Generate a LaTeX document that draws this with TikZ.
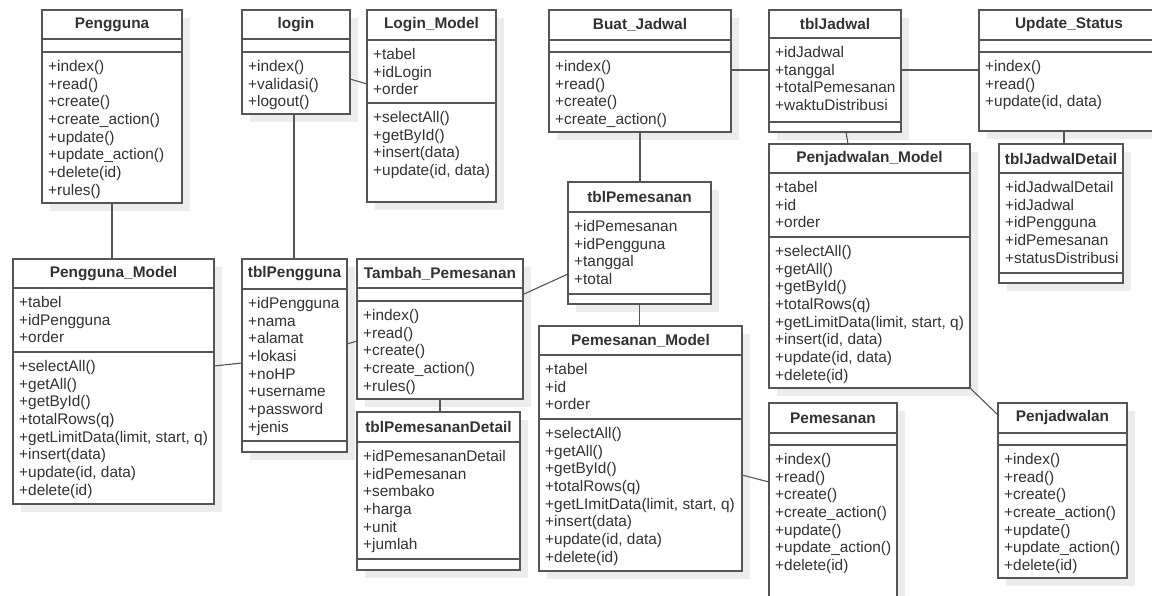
\documentclass[tikz,border=0pt]{standalone}
\usepackage{fontspec}
\setmainfont{Liberation Sans}
\usetikzlibrary{positioning,backgrounds}
\definecolor{linegray}{RGB}{85,85,85}
\definecolor{textgray}{RGB}{50,50,50}
\definecolor{shadowgray}{RGB}{236,236,236}
\tikzstyle{clsname} = [rectangle, draw=linegray, fill=white, line width=1.1pt, outer sep=0pt, inner sep=0pt, text=textgray, font=\fontsize{15.4}{17.7}\selectfont\bfseries, anchor=north west]
\tikzstyle{compart} = [rectangle, draw=linegray, fill=white, line width=1.1pt, outer sep=0pt, inner sep=0pt]
\tikzstyle{items} = [anchor=north west, align=left, inner xsep=6pt, inner ysep=8pt, text=textgray, font=\fontsize{15.4}{17.7}\selectfont]
\tikzstyle{line} = [draw=linegray, line width=1.1pt]

\begin{document}
\begin{tikzpicture}[x=1pt, y=-1pt]
	\useasboundingbox (0,0) rectangle (1152,595);

	% controllers and models, top row
	\node [clsname, minimum width=140, minimum height=29] (pengguna) at (42,10) {Pengguna};
	\node [compart, minimum width=140, minimum height=13, below=0pt of pengguna] (pengguna-a) {};
	\node [compart, minimum width=140, minimum height=151, below=0pt of pengguna-a] (pengguna-m) {};
	\node [items] (pengguna-mt) at (pengguna-m.north west) {+index()\\+read()\\+create()\\+create\_action()\\+update()\\+update\_action()\\+delete(id)\\+rules()};

	\node [clsname, minimum width=108, minimum height=29] (login) at (242,10) {login};
	\node [compart, minimum width=108, minimum height=13, below=0pt of login] (login-a) {};
	\node [compart, minimum width=108, minimum height=62, below=0pt of login-a] (login-m) {};
	\node [items] (login-mt) at (login-m.north west) {+index()\\+validasi()\\+logout()};

	\node [clsname, minimum width=129, minimum height=30] (loginmodel) at (367,10) {Login\_Model};
	\node [compart, minimum width=129, minimum height=63, below=0pt of loginmodel] (loginmodel-a) {};
	\node [compart, minimum width=129, minimum height=99, below=0pt of loginmodel-a] (loginmodel-m) {};
	\node [items] (loginmodel-at) at (loginmodel-a.north west) {+tabel\\+idLogin\\+order};
	\node [items] (loginmodel-mt) at (loginmodel-m.north west) {+selectAll()\\+getById()\\+insert(data)\\+update(id, data)};

	\node [clsname, minimum width=182, minimum height=30] (buatjadwal) at (549,10) {Buat\_Jadwal};
	\node [compart, minimum width=182, minimum height=12, below=0pt of buatjadwal] (buatjadwal-a) {};
	\node [compart, minimum width=182, minimum height=80, below=0pt of buatjadwal-a] (buatjadwal-m) {};
	\node [items] (buatjadwal-mt) at (buatjadwal-m.north west) {+index()\\+read()\\+create()\\+create\_action()};

	\node [clsname, minimum width=132, minimum height=28] (tbljadwal) at (769,10) {tblJadwal};
	\node [compart, minimum width=132, minimum height=84, below=0pt of tbljadwal] (tbljadwal-a) {};
	\node [compart, minimum width=132, minimum height=10, below=0pt of tbljadwal-a] (tbljadwal-m) {};
	\node [items] (tbljadwal-at) at (tbljadwal-a.north west) {+idJadwal\\+tanggal\\+totalPemesanan\\+waktuDistribusi};

	\node [clsname, minimum width=180, minimum height=30] (updatestatus) at (979,10) {Update\_Status};
	\node [compart, minimum width=180, minimum height=12, below=0pt of updatestatus] (updatestatus-a) {};
	\node [compart, minimum width=180, minimum height=79, below=0pt of updatestatus-a] (updatestatus-m) {};
	\node [items] (updatestatus-mt) at (updatestatus-m.north west) {+index()\\+read()\\+update(id, data)};

	% second row
	\node [clsname, minimum width=124, minimum height=29] (tbljadwaldetail) at (999,144) {tblJadwalDetail};
	\node [compart, minimum width=124, minimum height=100, below=0pt of tbljadwaldetail] (tbljadwaldetail-a) {};
	\node [compart, minimum width=124, minimum height=10, below=0pt of tbljadwaldetail-a] (tbljadwaldetail-m) {};
	\node [items] (tbljadwaldetail-at) at (tbljadwaldetail-a.north west) {+idJadwalDetail\\+idJadwal\\+idPengguna\\+idPemesanan\\+statusDistribusi};

	\node [clsname, minimum width=201, minimum height=29] (penjadwalanmodel) at (769,144) {Penjadwalan\_Model};
	\node [compart, minimum width=201, minimum height=64, below=0pt of penjadwalanmodel] (penjadwalanmodel-a) {};
	\node [compart, minimum width=201, minimum height=151, below=0pt of penjadwalanmodel-a] (penjadwalanmodel-m) {};
	\node [items] (penjadwalanmodel-at) at (penjadwalanmodel-a.north west) {+tabel\\+id\\+order};
	\node [items] (penjadwalanmodel-mt) at (penjadwalanmodel-m.north west) {+selectAll()\\+getAll()\\+getById()\\+totalRows(q)\\+getLimitData(limit, start, q)\\+insert(id, data)\\+update(id, data)\\+delete(id)};

	\node [clsname, minimum width=143, minimum height=30] (tblpemesanan) at (568,182) {tblPemesanan};
	\node [compart, minimum width=143, minimum height=82, below=0pt of tblpemesanan] (tblpemesanan-a) {};
	\node [compart, minimum width=143, minimum height=10, below=0pt of tblpemesanan-a] (tblpemesanan-m) {};
	\node [items] (tblpemesanan-at) at (tblpemesanan-a.north west) {+idPemesanan\\+idPengguna\\+tanggal\\+total};

	\node [clsname, minimum width=201, minimum height=29] (penggunamodel) at (13,259) {Pengguna\_Model};
	\node [compart, minimum width=201, minimum height=64, below=0pt of penggunamodel] (penggunamodel-a) {};
	\node [compart, minimum width=201, minimum height=152, below=0pt of penggunamodel-a] (penggunamodel-m) {};
	\node [items] (penggunamodel-at) at (penggunamodel-a.north west) {+tabel\\+idPengguna\\+order};
	\node [items] (penggunamodel-mt) at (penggunamodel-m.north west) {+selectAll()\\+getAll()\\+getById()\\+totalRows(q)\\+getLimitData(limit, start, q)\\+insert(data)\\+update(id, data)\\+delete(id)};

	\node [clsname, minimum width=105, minimum height=30] (tblpengguna) at (242,259) {tblPengguna};
	\node [compart, minimum width=105, minimum height=152, below=0pt of tblpengguna] (tblpengguna-a) {};
	\node [compart, minimum width=105, minimum height=11, below=0pt of tblpengguna-a] (tblpengguna-m) {};
	\node [items] (tblpengguna-at) at (tblpengguna-a.north west) {+idPengguna\\+nama\\+alamat\\+lokasi\\+noHP\\+username\\+password\\+jenis};

	\node [clsname, minimum width=166, minimum height=29] (tambahpemesanan) at (357,259) {Tambah\_Pemesanan};
	\node [compart, minimum width=166, minimum height=13, below=0pt of tambahpemesanan] (tambahpemesanan-a) {};
	\node [compart, minimum width=166, minimum height=98, below=0pt of tambahpemesanan-a] (tambahpemesanan-m) {};
	\node [items] (tambahpemesanan-mt) at (tambahpemesanan-m.north west) {+index()\\+read()\\+create()\\+create\_action()\\+rules()};

	% bottom row
	\node [clsname, minimum width=203, minimum height=29] (pemesananmodel) at (539,326) {Pemesanan\_Model};
	\node [compart, minimum width=203, minimum height=64, below=0pt of pemesananmodel] (pemesananmodel-a) {};
	\node [compart, minimum width=203, minimum height=152, below=0pt of pemesananmodel-a] (pemesananmodel-m) {};
	\node [items] (pemesananmodel-at) at (pemesananmodel-a.north west) {+tabel\\+id\\+order};
	\node [items] (pemesananmodel-mt) at (pemesananmodel-m.north west) {+selectAll()\\+getAll()\\+getById()\\+totalRows(q)\\+getLImitData(limit, start, q)\\+insert(data)\\+update(id, data)\\+delete(id)};

	\node [clsname, minimum width=163, minimum height=30] (tblpemesanandetail) at (357,412) {tblPemesananDetail};
	\node [compart, minimum width=163, minimum height=117, below=0pt of tblpemesanandetail] (tblpemesanandetail-a) {};
	\node [compart, minimum width=163, minimum height=11, below=0pt of tblpemesanandetail-a] (tblpemesanandetail-m) {};
	\node [items] (tblpemesanandetail-at) at (tblpemesanandetail-a.north west) {+idPemesananDetail\\+idPemesanan\\+sembako\\+harga\\+unit\\+jumlah};

	\node [clsname, minimum width=128, minimum height=30] (pemesanan) at (769,403) {Pemesanan};
	\node [compart, minimum width=128, minimum height=12, below=0pt of pemesanan] (pemesanan-a) {};
	\node [compart, minimum width=128, minimum height=220, below=0pt of pemesanan-a] (pemesanan-m) {};
	\node [items] (pemesanan-mt) at (pemesanan-m.north west) {+index()\\+read()\\+create()\\+create\_action()\\+update()\\+update\_action()\\+delete(id)};

	\node [clsname, minimum width=129, minimum height=30] (penjadwalan) at (998,403) {Penjadwalan};
	\node [compart, minimum width=129, minimum height=12, below=0pt of penjadwalan] (penjadwalan-a) {};
	\node [compart, minimum width=129, minimum height=133, below=0pt of penjadwalan-a] (penjadwalan-m) {};
	\node [items] (penjadwalan-mt) at (penjadwalan-m.north west) {+index()\\+read()\\+create()\\+create\_action()\\+update()\\+update\_action()\\+delete(id)};

	% associations
	\path [line] (pengguna-m.south) -- (pengguna-m.south |- penggunamodel.north);
	\path [line] ([xshift=-2]login-m.south) -- ([xshift=-2]login-m.south |- tblpengguna.north);
	\path [line] ([yshift=4]login-m.east) -- ([yshift=-12.5]loginmodel-a.west);
	\path [line] ([yshift=62]penggunamodel-m.east) -- ([yshift=2]tblpengguna-a.west);
	\path [line] ([yshift=21]tblpengguna-a.east) -- ([yshift=9]tambahpemesanan-m.west);
	\path [line] (tambahpemesanan-m.south) -- (tambahpemesanan-m.south |- tblpemesanandetail.north);
	\path [line] (tambahpemesanan-a.east) -- ([yshift=-21]tblpemesanan-a.west);
	\path [line] (buatjadwal-m.south) -- (buatjadwal-m.south |- tblpemesanan.north);
	\path [line] (tblpemesanan-m.south) -- (tblpemesanan-m.south |- pemesananmodel.north);
	\path [line] ([yshift=22]buatjadwal-m.east) -- ([yshift=10]tbljadwal-a.west);
	\path [line] ([yshift=10]tbljadwal-a.east) -- ([yshift=21.5]updatestatus-m.west);
	\path [line] ([xshift=11]tbljadwal-m.south) -- ([xshift=-21.5]penjadwalanmodel.north);
	\path [line] ([xshift=3]tbljadwaldetail.north) -- ([xshift=3]tbljadwaldetail.north |- updatestatus-m.south);
	\path [line] (penjadwalanmodel-m.south east) -- ([yshift=3]penjadwalan.west);
	\path [line] ([yshift=20]pemesananmodel-m.east) -- ([yshift=-37]pemesanan-m.north west);

	% shadows
	\begin{pgfonlayer}{background}
		\fill [white] (0,0) rectangle (1152,595);
		\foreach \c in {pengguna,login,loginmodel,buatjadwal,tbljadwal,updatestatus,tbljadwaldetail,penjadwalanmodel,tblpemesanan,penggunamodel,tblpengguna,tambahpemesanan,pemesananmodel,tblpemesanandetail,pemesanan,penjadwalan}
			\fill [shadowgray] ([shift={(8,8)}]\c.north west) rectangle ([shift={(8,8)}]\c-m.south east);
	\end{pgfonlayer}
\end{tikzpicture}
\end{document}
